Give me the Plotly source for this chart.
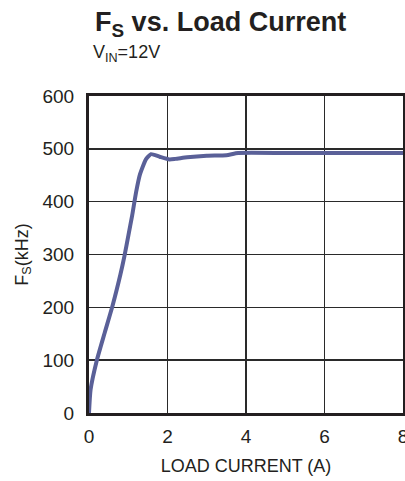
import plotly.graph_objects as go

load_current = [0.0, 0.04, 0.2, 0.4, 0.6, 0.8, 0.9, 1.0, 1.1, 1.2, 1.3, 1.45, 1.58, 1.8, 2.05, 2.2, 2.5, 3.0, 3.5, 3.8, 5.0, 6.0, 7.0, 8.0]
fs_khz = [0, 44, 100, 152, 203, 262, 296, 335, 374, 418, 452, 480, 490, 485, 480, 481, 484, 487, 488, 492, 492, 492, 492, 492]

x_ticks = [0, 2, 4, 6, 8]
y_ticks = [0, 100, 200, 300, 400, 500, 600]

ink = "#231f20"
font = "Liberation Sans, Arial, sans-serif"

fig = go.Figure()
fig.add_trace(go.Scatter(x=load_current, y=fs_khz, mode="lines",
                         line=dict(color="#5a6098", width=4, shape="spline", smoothing=0.5),
                         showlegend=False, hoverinfo="skip"))

fig.update_layout(
    width=405, height=481,
    margin=dict(l=89, r=2, t=96, b=68, autoexpand=False),
    paper_bgcolor="white", plot_bgcolor="white",
    font=dict(family=font, color=ink, size=19),
    xaxis=dict(range=[0, 8], tickvals=x_ticks, showgrid=True, gridcolor="#2a2a2a", gridwidth=1.5,
               showline=True, linecolor=ink, linewidth=3, mirror=True, ticks="",
               zeroline=False, ticklabelstandoff=4, automargin=False, ticklabeloverflow="allow",
               title=dict(text="LOAD CURRENT (A)", font=dict(size=18), standoff=14)),
    yaxis=dict(range=[0, 600], tickvals=y_ticks, showgrid=True, gridcolor="#2a2a2a", gridwidth=1.5,
               showline=True, linecolor=ink, linewidth=3, mirror=True, ticks="",
               zeroline=False, ticklabelstandoff=8, automargin=False, ticklabeloverflow="allow",
               title=dict(text="F<sub>S</sub>(kHz)", font=dict(size=18), standoff=10)),
    annotations=[
        dict(text="<b>F<sub>S</sub> vs. Load Current</b>", xref="paper", yref="paper",
             x=(93 - 89) / 314, y=1 + (96 - 5) / 317, xanchor="left", yanchor="top",
             showarrow=False, font=dict(size=27, color=ink)),
        dict(text="V<sub>IN</sub>=12V", xref="paper", yref="paper",
             x=(91 - 89) / 314, y=1 + (96 - 40) / 317, xanchor="left", yanchor="top",
             showarrow=False, font=dict(size=18, color=ink)),
    ],
)

fig.write_html("out.html", config={"displayModeBar": False, "staticPlot": True},
               post_script="document.body.style.margin='0';document.body.style.overflow='hidden';")
